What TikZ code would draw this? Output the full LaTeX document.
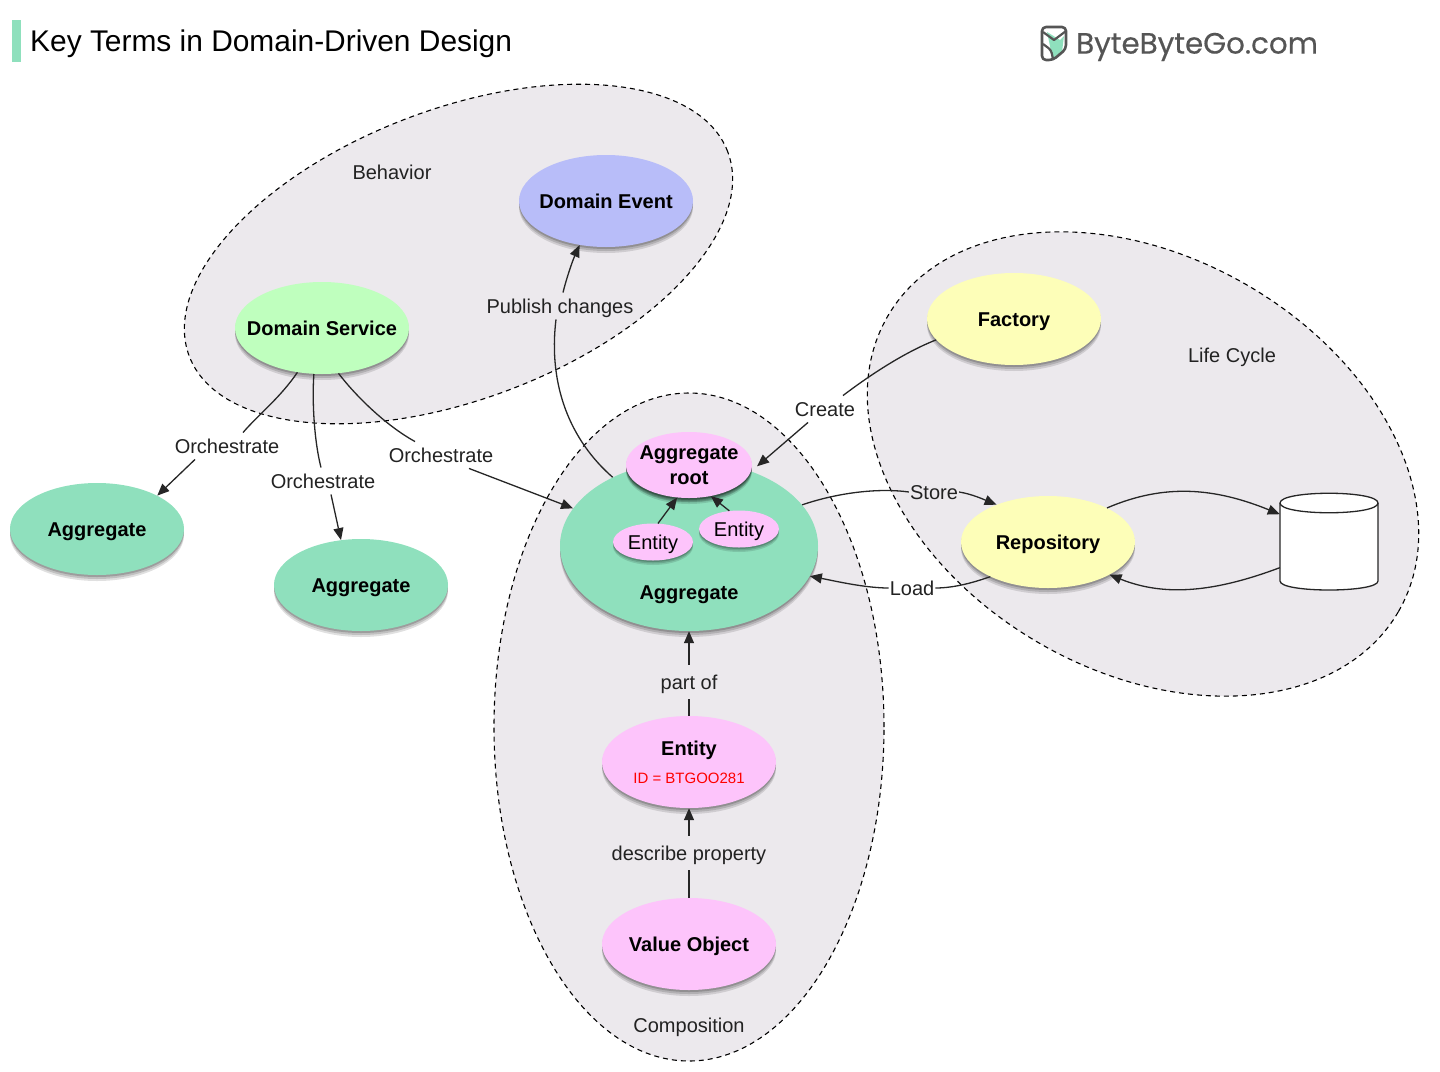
\documentclass[tikz,border=0pt]{standalone}
\usepackage{fontspec}
\setmainfont{Liberation Sans}
\newfontfamily\logofont[FakeBold=0.4]{Poppins}
\usetikzlibrary{shapes.geometric,shadows,arrows.meta}
\definecolor{regionfill}{HTML}{ECE9ED}
\definecolor{aggcol}{HTML}{8FE0BD}
\definecolor{pinkcol}{HTML}{FDC4FB}
\definecolor{bluecol}{HTML}{B8BDF9}
\definecolor{greencol}{HTML}{BFFFBE}
\definecolor{yellowcol}{HTML}{FDFEB8}
\definecolor{logogray}{HTML}{555555}
\definecolor{inkcol}{HTML}{222222}
\tikzset{
  x=1pt,y=-1pt,
  region/.style={ellipse,draw=black,line width=1.1pt,fill=regionfill,inner sep=-15pt,dash pattern=on 5pt off 4pt},
  soft shadow/.style={
    drop shadow={shadow xshift=0pt,shadow yshift=-#1*1.5pt,opacity=.12,fill=black},
    drop shadow={shadow xshift=0pt,shadow yshift=-#1*1pt,opacity=.14,fill=black},
    drop shadow={shadow xshift=0pt,shadow yshift=-#1*.5pt,opacity=.18,fill=black}},
  term/.style={ellipse,inner sep=-15pt,minimum width=174pt,minimum height=92pt,align=center,
    font=\fontsize{20}{25}\selectfont\bfseries,text=black,soft shadow=4},
  one line/.style={text height=14.5pt,text depth=0pt},
  small term/.style={ellipse,inner sep=-15pt,fill=pinkcol,minimum width=80pt,minimum height=37pt,
    font=\fontsize{20}{25}\selectfont,text=black,one line,soft shadow=3},
  lbl/.style={font=\fontsize{20}{24}\selectfont,text=inkcol,inner xsep=1pt,inner ysep=6pt,one line},
  vlbl/.style={lbl,inner ysep=10pt},
  conn/.style={line width=1.3pt,draw=black!85},
  arr/.style={conn,-{Triangle[length=12pt,width=10pt]}},
}
\begin{document}
\begin{tikzpicture}
\useasboundingbox (0,0) rectangle (1440,1071);
% header
\fill[aggcol] (12,20) rectangle (21,62);
\node[anchor=west,inner sep=0pt,font=\fontsize{29.9}{36}\selectfont,text=black] (title) at (30,44) {Key Terms in Domain-Driven Design};
\fill[aggcol] (1047,32) -- (1060,40) -- (1064,36) -- (1062,52) -- (1052,59) -- (1050,46) -- cycle;
\draw[logogray,line width=2.6pt,rounded corners=4pt,line join=round] (1042,60) -- (1042,27) -- (1066,27) -- (1066,49) -- (1053,60) -- cycle;
\draw[logogray,line width=2.2pt,line join=round] (1043,32) -- (1054,40) -- (1066,31);
\draw[logogray,line width=2.2pt,rounded corners=3pt] (1043,44) -- (1051,50) -- (1053,59);
\node[anchor=west,inner sep=0pt,font=\logofont\fontsize{29.4}{36}\selectfont,text=logogray] (logo) at (1076,47) {ByteByteGo.com};
% regions
\node[region,rotate=20.8,minimum width=576pt,minimum height=290pt] (behavior) at (458.5,254) {};
\node[region,rotate=-30,minimum width=590pt,minimum height=414pt] (lifecycle) at (1143,464) {};
\node[region,minimum width=390pt,minimum height=668pt] (composition) at (689,727) {};
\node[lbl] (tbeh) at (392,172) {Behavior};
\node[lbl] (tlife) at (1232,355) {Life Cycle};
\node[lbl] (tcomp) at (689,1025) {Composition};
% terms
\node[term,one line,fill=bluecol] (event) at (606,201) {Domain Event};
\node[term,one line,fill=greencol] (service) at (322,328) {Domain Service};
\node[term,one line,fill=aggcol] (aggA) at (97,529) {Aggregate};
\node[term,one line,fill=aggcol] (aggB) at (361,585) {Aggregate};
\node[term,one line,fill=yellowcol] (factory) at (1014,319) {Factory};
\node[term,one line,fill=yellowcol] (repo) at (1048,542) {Repository};
\node[term,fill=aggcol,minimum width=258pt,minimum height=170pt] (agg) at (689,546) {};
\node[lbl,font=\fontsize{20}{24}\selectfont\bfseries,text=black] (aggtext) at (689,592) {Aggregate};
\node[term,fill=pinkcol,minimum width=126pt,minimum height=66pt,font=\fontsize{20}{25}\selectfont\bfseries,soft shadow=3] (root) at (689,465) {Aggregate\\root};
\node[small term] (entA) at (653,542) {Entity};
\node[small term] (entB) at (739,529) {Entity};
\node[term,fill=pinkcol] (entity) at (689,762) {Entity\\[3pt]{\fontsize{15}{18}\selectfont\mdseries\color{red}ID = BTGOO281}};
\node[term,one line,fill=pinkcol] (value) at (689,944) {Value Object};
% database
\node[minimum width=98pt,minimum height=97pt,inner sep=0pt] (db) at (1329,541.5) {};
\draw[conn,fill=white] (1280,503) .. controls (1280,490) and (1378,490) .. (1378,503) -- (1378,581) .. controls (1378,593) and (1280,593) .. (1280,581) -- cycle;
\draw[conn] (1280,503) .. controls (1280,516) and (1378,516) .. (1378,503);
% labels
\node[lbl] (lo1) at (227,446) {Orchestrate};
\node[lbl] (lo2) at (323,481) {Orchestrate};
\node[lbl] (lo3) at (441,455) {Orchestrate};
\node[lbl] (pub) at (560,306) {Publish changes};
\node[lbl] (create) at (825,409) {Create};
\node[lbl] (store) at (934,492) {Store};
\node[lbl] (load) at (912,588) {Load};
\node[vlbl] (partof) at (689,682) {part of};
\node[vlbl] (descr) at (689,853) {describe property};
% connectors
\draw[conn] (service.241) .. controls (280,398) and (258,415) .. ([xshift=16pt]lo1.north);
\draw[arr] ([xshift=-32pt]lo1.south) -- (aggA.29);
\draw[conn] (service.260) .. controls (312,400) and (314,440) .. ([xshift=-2pt]lo2.north);
\draw[arr] ([xshift=8pt]lo2.south) -- (aggB.114);
\draw[conn] (service.290) .. controls (355,395) and (385,425) .. ([xshift=-26pt]lo3.north);
\draw[arr] ([xshift=28pt]lo3.south) -- (agg.162);
\draw[conn] (agg.138) .. controls (570,440) and (548,385) .. ([xshift=-4pt]pub.south);
\draw[arr] ([xshift=3pt]pub.north) .. controls (566,280) and (572,262) .. (event.239);
\draw[conn] (factory.195) .. controls (905,352) and (870,375) .. ([xshift=18pt]create.north);
\draw[arr,shorten >=8pt] ([xshift=-17pt]create.south) -- (root.-6);
\draw[conn] (agg.20) .. controls (840,492) and (880,488) .. (store.west);
\draw[arr] (store.east) .. controls (972,494) and (985,500) .. (repo.144);
\draw[conn] (repo.211) .. controls (975,582) and (955,588) .. (load.east);
\draw[arr] (load.west) .. controls (865,588) and (835,581) .. (agg.-14);
\draw[conn] (entity.north) -- (partof.south);
\draw[arr] (partof.north) -- (agg.south);
\draw[conn] (value.north) -- (descr.south);
\draw[arr] (descr.north) -- (entity.south);
\draw[arr] (entA.75) -- (root.250);
\draw[arr] (entB.118) -- (root.305);
\draw[arr] (repo.30) .. controls (1165,483) and (1215,488) .. (db.151);
\draw[arr] (db.208) .. controls (1215,592) and (1165,597) .. (repo.-28);
\end{tikzpicture}
\end{document}
